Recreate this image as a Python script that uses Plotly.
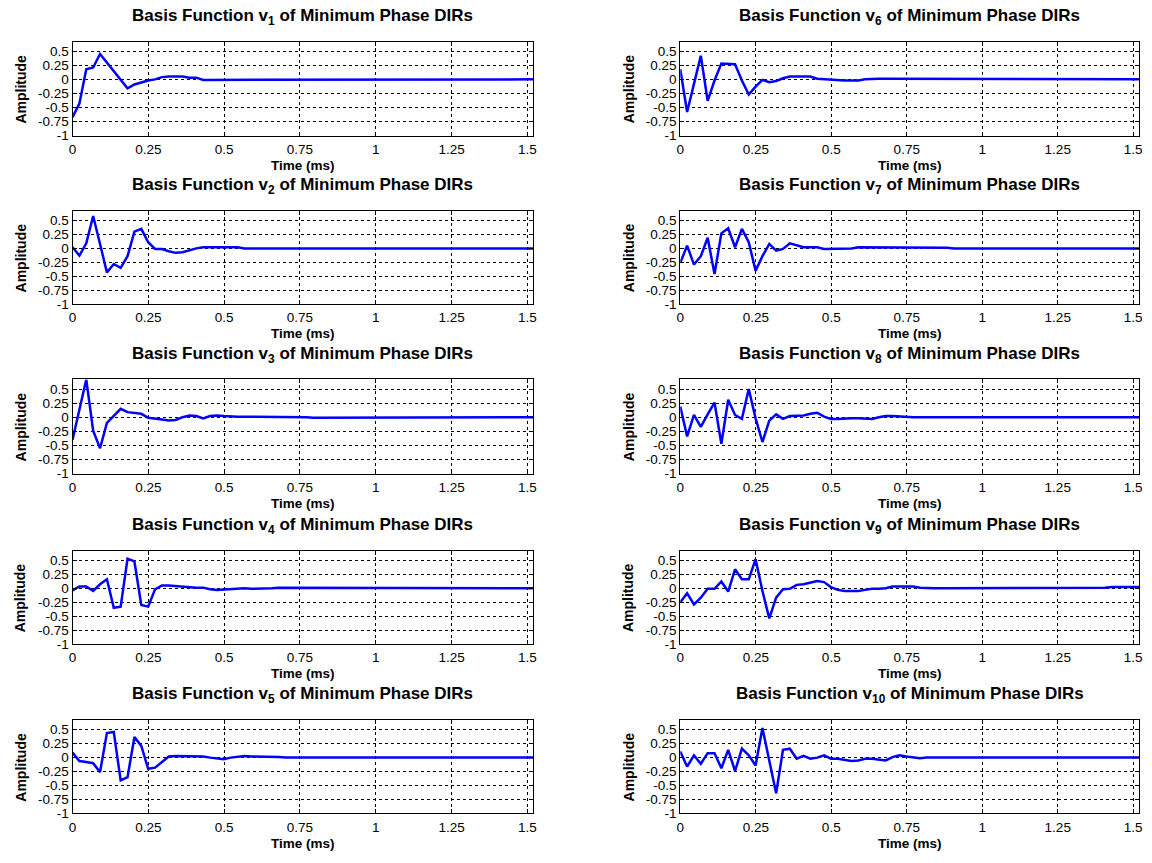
import plotly.graph_objects as go

# ---------------- data ----------------
SAMPLE_RATE_KHZ = 44.1   # samples per ms

v1 = [-0.67, -0.43, 0.18, 0.21, 0.45, 0.30, 0.14, -0.02, -0.16, -0.09,
      -0.05, -0.02, 0.00, 0.04, 0.05, 0.05, 0.05, 0.03, 0.03, -0.01,
      -0.01, -0.01, -0.01, -0.01, 0.00, 0.00, 0.00, 0.00, 0.00, 0.00,
      0.00, 0.00, 0.00, 0.00, 0.00, 0.00, 0.00, 0.00, 0.00, 0.00,
      0.00, 0.00, 0.00, 0.00, 0.00, 0.00, 0.00, 0.00, 0.00, 0.00,
      0.00, 0.00, 0.00, 0.00, 0.00, 0.00, 0.00, 0.00, 0.00, 0.00,
      0.00, 0.00, 0.00, 0.00, 0.00, 0.00, 0.00, 0.00]
v2 = [0.02, -0.13, 0.09, 0.58, 0.08, -0.43, -0.28, -0.35, -0.14, 0.30,
      0.35, 0.11, -0.01, -0.01, -0.05, -0.08, -0.07, -0.03, 0.00, 0.02,
      0.02, 0.02, 0.02, 0.02, 0.02, 0.00, 0.00, -0.01, -0.01, -0.01,
      0.00, 0.00, 0.00, 0.00, 0.00, 0.00, 0.00, 0.00, 0.00, 0.00,
      0.00, 0.00, 0.00, 0.00, 0.00, 0.00, 0.00, 0.00, 0.00, 0.00,
      0.00, 0.00, 0.00, 0.00, 0.00, 0.00, 0.00, 0.00, 0.00, 0.00,
      0.00, 0.00, 0.00, 0.00, 0.00, 0.00, 0.00, 0.00]
v3 = [-0.40, 0.14, 0.67, -0.24, -0.55, -0.10, 0.03, 0.15, 0.09, 0.07,
      0.06, -0.01, -0.02, -0.04, -0.06, -0.05, 0.00, 0.03, 0.02, -0.02,
      0.02, 0.03, 0.02, 0.01, 0.01, 0.01, 0.01, 0.01, 0.01, 0.01,
      0.01, 0.01, 0.01, 0.01, 0.00, -0.01, -0.01, -0.01, 0.00, 0.00,
      0.00, 0.00, 0.00, -0.01, -0.01, 0.00, 0.00, 0.00, 0.00, 0.00,
      0.00, 0.00, 0.00, 0.00, 0.00, 0.00, 0.00, 0.00, 0.00, 0.00,
      0.00, 0.00, 0.00, 0.00, 0.00, 0.00, 0.00, 0.00]
v4 = [-0.04, 0.03, 0.03, -0.05, 0.07, 0.16, -0.35, -0.33, 0.53, 0.48,
      -0.30, -0.33, -0.02, 0.05, 0.05, 0.04, 0.02, 0.02, 0.01, 0.01,
      -0.02, -0.03, -0.02, -0.01, 0.00, 0.00, -0.01, -0.01, -0.01, 0.00,
      0.01, 0.01, 0.01, 0.01, 0.01, 0.01, 0.01, 0.01, 0.01, 0.01,
      0.01, 0.01, 0.01, 0.01, 0.01, 0.00, 0.00, 0.00, 0.00, 0.00,
      0.00, 0.00, 0.00, 0.00, 0.00, 0.00, 0.00, 0.00, 0.00, 0.00,
      0.00, 0.00, 0.00, 0.00, 0.00, 0.00, 0.00, 0.00]
v5 = [0.09, -0.06, -0.08, -0.10, -0.26, 0.44, 0.46, -0.41, -0.35, 0.37,
      0.21, -0.20, -0.18, -0.08, 0.02, 0.03, 0.03, 0.02, 0.02, 0.02,
      0.00, -0.02, -0.03, 0.00, 0.02, 0.03, 0.02, 0.02, 0.02, 0.02,
      0.01, 0.00, 0.00, 0.00, 0.00, 0.00, 0.00, 0.00, 0.00, 0.00,
      0.00, 0.00, 0.00, 0.00, 0.00, 0.00, 0.00, 0.00, 0.00, 0.00,
      0.00, 0.00, 0.00, 0.00, 0.00, 0.00, 0.00, 0.00, 0.00, 0.00,
      0.00, 0.00, 0.00, 0.00, 0.00, 0.00, 0.00, 0.00]
v6 = [0.18, -0.58, -0.08, 0.42, -0.38, -0.02, 0.28, 0.28, 0.27, -0.02,
      -0.27, -0.13, -0.01, -0.05, -0.03, 0.02, 0.05, 0.05, 0.05, 0.05,
      0.01, 0.00, -0.01, -0.02, -0.02, -0.02, -0.02, 0.00, 0.01, 0.01,
      0.01, 0.01, 0.01, 0.01, 0.01, 0.01, 0.01, 0.01, 0.01, 0.01,
      0.00, 0.00, 0.00, 0.00, 0.00, 0.00, 0.00, 0.00, 0.00, 0.00,
      0.00, 0.00, 0.00, 0.00, 0.00, 0.00, 0.00, 0.00, 0.00, 0.00,
      0.00, 0.00, 0.00, 0.00, 0.00, 0.00, 0.00, 0.00]
v7 = [-0.26, 0.05, -0.29, -0.14, 0.19, -0.46, 0.27, 0.36, 0.02, 0.35,
      0.11, -0.40, -0.14, 0.08, -0.04, -0.01, 0.09, 0.06, 0.02, 0.02,
      0.02, -0.01, -0.01, -0.01, -0.01, 0.00, 0.02, 0.02, 0.02, 0.02,
      0.02, 0.02, 0.02, 0.01, 0.01, 0.01, 0.01, 0.01, 0.01, 0.01,
      0.00, 0.00, 0.00, 0.00, 0.00, 0.00, 0.00, 0.00, 0.00, 0.00,
      0.00, 0.00, 0.00, 0.00, 0.00, 0.00, 0.00, 0.00, 0.00, 0.00,
      0.00, 0.00, 0.00, 0.00, 0.00, 0.00, 0.00, 0.00]
v8 = [0.19, -0.34, 0.04, -0.17, 0.05, 0.26, -0.47, 0.31, 0.04, -0.03,
      0.50, -0.02, -0.44, -0.06, 0.05, -0.03, 0.02, 0.02, 0.03, 0.06,
      0.08, 0.01, -0.03, -0.03, -0.02, -0.02, -0.02, -0.03, -0.03, 0.00,
      0.02, 0.02, 0.01, 0.01, 0.00, 0.00, 0.00, 0.00, 0.00, 0.00,
      0.00, 0.00, 0.00, 0.00, 0.00, 0.00, 0.00, 0.00, 0.00, 0.00,
      0.00, 0.00, 0.00, 0.00, 0.00, 0.00, 0.00, 0.00, 0.00, 0.00,
      0.00, 0.00, 0.00, 0.00, 0.00, 0.00, 0.00, 0.00]
v9 = [-0.25, -0.09, -0.29, -0.17, -0.01, -0.01, 0.12, -0.06, 0.34, 0.16,
      0.16, 0.52, -0.05, -0.54, -0.17, -0.02, -0.01, 0.06, 0.07, 0.10,
      0.13, 0.11, 0.02, -0.03, -0.05, -0.05, -0.05, -0.03, -0.01, -0.01,
      0.00, 0.03, 0.03, 0.02, 0.03, 0.01, 0.00, 0.00, 0.00, 0.00,
      0.00, 0.00, 0.00, 0.00, 0.00, 0.01, 0.01, 0.00, 0.00, 0.00,
      0.00, 0.00, 0.00, 0.00, 0.00, 0.00, 0.01, 0.01, 0.01, 0.01,
      0.01, 0.01, 0.01, 0.02, 0.02, 0.02, 0.02, 0.02]
v10 = [0.11, -0.16, 0.04, -0.11, 0.08, 0.08, -0.19, 0.14, -0.24, 0.16,
       0.04, -0.14, 0.53, -0.05, -0.64, 0.14, 0.16, -0.02, 0.03, -0.02,
       0.00, 0.04, -0.02, -0.02, -0.04, -0.06, -0.05, -0.02, -0.02, -0.04,
       -0.05, 0.01, 0.04, 0.02, 0.00, -0.01, 0.00, 0.00, 0.00, 0.00,
       0.00, 0.00, 0.00, 0.00, 0.00, 0.00, 0.00, 0.00, 0.00, 0.00,
       0.00, 0.00, 0.00, 0.00, 0.00, 0.00, 0.00, 0.00, 0.00, 0.00,
       0.00, 0.00, 0.00, 0.00, 0.00, 0.00, 0.00, 0.00]

series = [v1, v2, v3, v4, v5, v6, v7, v8, v9, v10]
subscripts = ["1", "2", "3", "4", "5", "6", "7", "8", "9", "10"]

x_tick_vals = [0, 0.25, 0.5, 0.75, 1, 1.25, 1.5]
x_tick_text = ["0", "0.25", "0.5", "0.75", "1", "1.25", "1.5"]
y_tick_vals = [-1, -0.75, -0.5, -0.25, 0, 0.25, 0.5]
y_tick_text = ["-1", "-0.75", "-0.5", "-0.25", "0", "0.25", "0.5"]
y_range = [-1, 0.67]

# ---------------- layout geometry (pixels) ----------------
W, H = 1152, 863
col_px = [(69, 533), (681, 1143)]
row_px = [(42, 137), (213, 307), (383, 478), (556, 650), (727, 821)]

FONT = "Liberation Sans, Arial, Helvetica, sans-serif"

fig = go.Figure()
annotations = []
layout_axes = {}

for i, vals in enumerate(series):
    col = i // 5
    row = i % 5
    x0, x1 = col_px[col]
    top, bot = row_px[row]
    n = len(vals)
    t = [k / SAMPLE_RATE_KHZ for k in range(n)]
    xmax = (n - 1) / SAMPLE_RATE_KHZ
    ax = "" if i == 0 else str(i + 1)
    fig.add_trace(go.Scatter(
        x=t, y=vals, mode="lines",
        line=dict(color="#0000ff", width=2.5),
        xaxis="x" + ax, yaxis="y" + ax, showlegend=False,
        hoverinfo="skip",
    ))
    common = dict(
        showline=True, mirror="ticks", linecolor="black", linewidth=1,
        showgrid=True, gridcolor="black", gridwidth=1, griddash="3px,3px",
        zeroline=False, ticks="inside", ticklen=4, tickcolor="black",
        tickfont=dict(family=FONT, size=13.5, color="black"),
        fixedrange=True,
    )
    layout_axes["xaxis" + ax] = dict(
        domain=[x0 / W, x1 / W], anchor="y" + ax, range=[0, xmax],
        tickmode="array", tickvals=x_tick_vals, ticktext=x_tick_text,
        ticklabelstandoff=1,
        **common)
    layout_axes["yaxis" + ax] = dict(
        domain=[1 - bot / H, 1 - top / H], anchor="x" + ax, range=y_range,
        tickmode="array", tickvals=y_tick_vals, ticktext=y_tick_text,
        ticklabelstandoff=0,
        **common)

    cx = (x0 + x1) / 2 / W
    annotations.append(dict(
        text="<b>Basis Function v<sub>" + subscripts[i] + "</sub> of Minimum Phase DIRs</b>",
        x=cx, y=1 - (top - 25) / H, xref="paper", yref="paper",
        xanchor="center", yanchor="middle", showarrow=False,
        font=dict(family=FONT, size=17, color="black")))
    annotations.append(dict(
        text="<b>Time (ms)</b>", x=cx, y=1 - (bot + 30) / H,
        xref="paper", yref="paper", xanchor="center", yanchor="middle",
        showarrow=False, font=dict(family=FONT, size=13.5, color="black")))
    annotations.append(dict(
        text="<b>Amplitude</b>", x=(x0 - 52) / W, y=1 - ((top + bot) / 2) / H,
        xref="paper", yref="paper", xanchor="center", yanchor="middle",
        textangle=-90, showarrow=False,
        font=dict(family=FONT, size=14, color="black")))

fig.update_layout(
    width=W, height=H, margin=dict(l=0, r=0, t=0, b=0),
    paper_bgcolor="white", plot_bgcolor="white",
    annotations=annotations, **layout_axes,
)

fig.write_html("out.html", config={"displayModeBar": False})
